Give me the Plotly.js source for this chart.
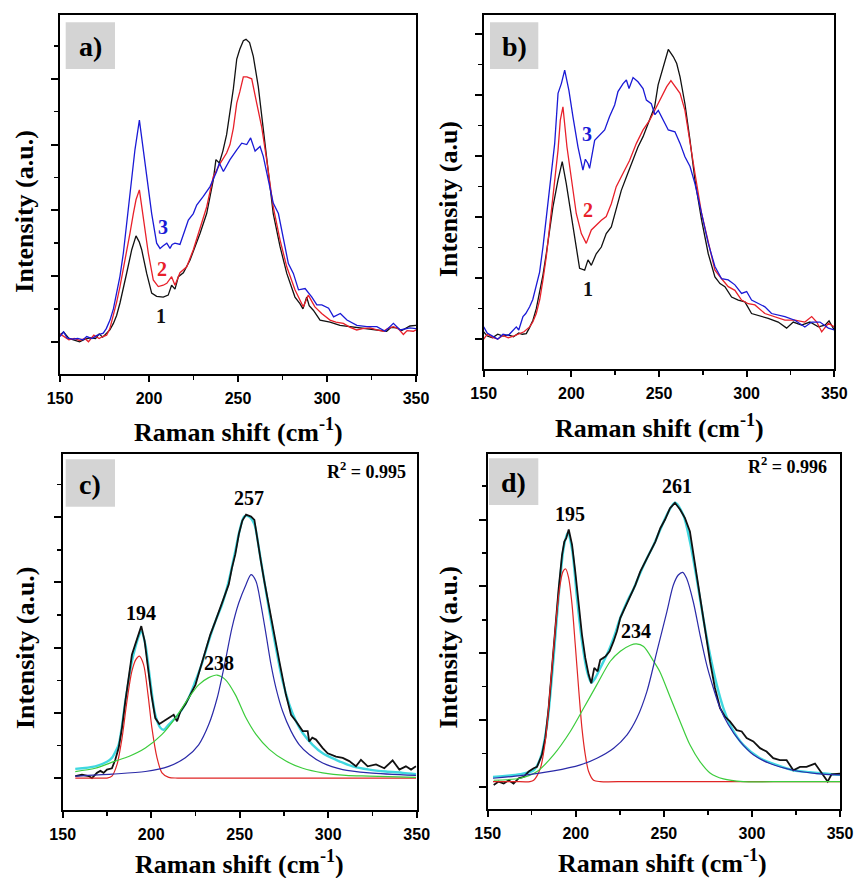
<!DOCTYPE html>
<html>
<head>
<meta charset="utf-8">
<script src="https://cdn.plot.ly/plotly-3.0.1.min.js"></script>
<style>html,body{margin:0;padding:0;background:#fff;}#chart{width:855px;height:878px;}</style>
</head>
<body>
<div id="chart"></div>
<script>
// ---------- Panel a ----------
const aX1 = [150,152,155,158,161,164,167,170,172,174,176,178,180,181.8,183.7,185.6,187.5,190.3,192.7,194.5,195.9,198.7,201.5,204.3,208,210.8,212.7,214.6,216.5,219.3,223,228.7,232.4,236.1,237.6,239.5,241.5,243.6,247.4,249.3,251,253,254.5,256.5,258.6,261.4,264.2,267,269.8,273.6,277.4,282,284.8,286.5,288.6,290,292.3,296.1,301.7,307.3,313,320.4,328,333.5,336,339,342,346.6,350];
const aY1 = [0.10,0.15,0.05,0.03,0.0,0.04,0.06,0.05,0.12,0.07,0.12,0.18,0.28,0.4,0.59,0.8,1.05,1.40,1.61,1.52,1.40,1.04,0.74,0.69,0.68,0.71,0.86,0.80,0.99,1.05,1.24,1.65,1.95,2.46,2.77,2.72,2.9,3.15,3.85,4.3,4.45,4.58,4.60,4.55,4.34,3.88,3.22,2.61,1.95,1.45,1.04,0.68,0.58,0.5,0.68,0.55,0.48,0.33,0.30,0.25,0.23,0.21,0.18,0.16,0.22,0.21,0.17,0.24,0.25];
const aX2 = [150,152,155,158,161,164,166,169,172,174,176.2,178,180,181.8,183.7,185.6,187.5,189.3,191.2,192.7,194.6,196.8,199.6,202.4,205.2,208,210,212.7,214.6,217.4,221.2,224.9,228.7,232.4,236.1,239.9,243.6,245.5,247.4,249.3,251,253,255,257.7,260.5,263.3,266.1,269.8,273.6,277.4,282,286.7,289.5,293.2,297,301.7,305,309.2,313,316.7,320,324.2,328,331.7,334,337.3,340,342.9,345,348.5,350];
const aY2 = [0.12,0.08,0.03,0.05,0.02,0.05,0.0,0.1,0.05,0.08,0.10,0.2,0.40,0.6,0.84,1.1,1.35,1.65,1.95,2.16,2.31,1.85,1.35,0.94,0.84,0.86,0.89,0.99,0.86,1.05,1.14,1.40,1.75,2.05,2.51,2.71,2.87,3.0,3.25,3.63,3.8,4.03,4.03,4.00,3.63,3.27,2.77,2.05,1.55,1.14,0.79,0.53,0.71,0.53,0.43,0.33,0.3,0.28,0.22,0.18,0.2,0.21,0.18,0.16,0.2,0.23,0.2,0.11,0.17,0.16,0.18];
const aX3 = [150,152,154,157,160,163,165,168,171,174.3,176,178.1,180,181.8,183.7,185.6,187.5,189.3,192.1,194.6,196.8,199,201.5,204.3,206.2,208,210,211.8,213,214.6,217.4,220.2,222.1,224.9,226.8,230.5,234.3,238,239.5,241.8,245.5,249.3,252.1,254.9,257.1,259.6,262.4,264.2,267,269.8,272.7,275.5,278.3,281.1,284,287.7,291.5,294.3,297.1,300.9,303.7,307.5,311.2,316.8,322.4,328,332.7,337.3,341.1,346.6,350];
const aY3 = [0.08,0.15,0.06,0.04,0.05,0.03,0.08,0.05,0.1,0.13,0.2,0.33,0.5,0.74,1.0,1.35,1.8,2.26,2.92,3.37,2.92,2.46,1.95,1.50,1.42,1.46,1.50,1.42,1.48,1.50,1.48,1.70,1.85,1.95,2.08,2.21,2.36,2.59,2.72,2.59,2.77,2.92,3.02,3.0,3.10,2.90,2.97,2.82,2.46,2.11,1.95,1.55,1.19,1.04,0.79,0.81,0.68,0.56,0.56,0.51,0.38,0.43,0.33,0.25,0.23,0.23,0.16,0.28,0.18,0.21,0.2];

// ---------- Panel b ----------
const bX1 = [150,152,155,158,161,164,167,170,172,174.3,176,178.1,180,181.9,183.8,185.7,187.6,189.5,192.4,194.8,197.1,200,202.8,204.7,207.6,209.5,211.4,214.2,217.1,219.9,222.8,225.6,228.5,231.4,235.2,238,240.9,244.7,247.5,249.5,251.5,253.4,255.3,258.2,260.1,262,264.8,267.7,270.5,274.3,278.1,281.9,284.8,287.6,291.4,295.2,299,302.8,306.6,312.3,318,322.8,326.6,331.3,336.1,340.9,344.7,347,350];
const bY1 = [0.12,0.05,0.02,0.08,0.05,0.07,0.04,0.1,0.08,0.09,0.18,0.31,0.5,0.75,1.05,1.40,1.8,2.17,2.61,2.91,2.55,2.01,1.46,1.16,1.13,1.30,1.21,1.40,1.51,1.73,1.84,2.12,2.44,2.66,2.93,3.15,3.32,3.59,3.81,4.17,4.38,4.57,4.75,4.63,4.52,4.30,3.86,3.26,2.61,1.95,1.40,1.02,0.91,0.86,0.69,0.64,0.61,0.42,0.39,0.34,0.28,0.18,0.28,0.23,0.28,0.20,0.23,0.3,0.15];
const bX2 = [150,152,155,158,161,164,167,170,173,176.2,178,180,182,183.8,185.7,187.6,190.5,192.4,193.7,195.2,197.5,200,202.8,205.7,208.5,211.4,214.2,217.1,219.9,222.8,225.6,229.5,233.2,237.1,240.9,244.7,248.5,251.5,254.4,256.8,259.1,262,264.8,267.7,270.5,274.3,278.1,281.9,285.7,289.5,293.3,297.1,300.9,304.7,310.4,316.1,321.8,327.5,333.2,337.1,340,342.8,346.6,350];
const bY2 = [0.0,0.08,0.03,0.0,0.06,0.02,0.05,0.08,0.12,0.20,0.28,0.42,0.65,0.97,1.35,1.84,2.66,3.10,3.59,3.81,3.15,2.61,2.06,1.73,1.57,1.79,1.87,1.95,2.01,2.22,2.50,2.72,2.93,3.21,3.43,3.59,3.80,3.97,4.14,4.24,4.14,4.03,3.75,3.26,2.72,2.06,1.57,1.13,0.99,0.86,0.80,0.64,0.58,0.56,0.42,0.37,0.31,0.31,0.28,0.37,0.28,0.12,0.26,0.2];
const bX3 = [150,152,155,158,161,164,166,168.6,170,172.4,174,176.2,178,180,181.9,183.8,185.7,187.6,190.5,192.4,194.3,196.2,198.6,200.9,203.8,206.6,208,209.5,210.4,213.3,216.1,219,221.8,224.7,226.6,229.5,231.4,232.9,235.2,238,240.9,242.8,245.6,247.7,249.6,252.5,255.3,259.1,262,264.8,267.7,270.5,274.3,278.1,281.9,285.7,289.5,293.3,297.1,300,302.8,306.6,310.4,314.2,318,321.8,327.5,333.2,337.1,341.8,346.6,350];
const bY3 = [0.2,0.1,0.05,0.0,0.08,0.06,0.12,0.20,0.15,0.37,0.42,0.53,0.65,0.86,1.1,1.51,2.0,2.50,3.21,4.03,4.19,4.41,4.08,3.65,3.15,2.77,2.95,2.88,2.80,3.26,3.34,3.43,3.65,3.84,4.06,4.19,4.25,4.11,4.29,4.22,4.11,3.92,3.86,3.68,3.75,3.59,3.43,3.40,3.21,2.99,2.83,2.55,2.06,1.57,1.19,0.99,0.97,0.89,0.75,0.78,0.64,0.58,0.53,0.42,0.39,0.37,0.31,0.20,0.28,0.28,0.18,0.15];

// ---------- Panel c ----------
const cXdata = [157.1,160.9,164.7,166.5,169.4,171.3,173.1,175,177.8,179.7,181.6,183.5,185.4,187.3,189.1,191,192.9,194.4,196.3,198.2,200.1,202.3,204.6,207,209.9,212.7,214.6,216.5,219.3,222.1,225,227.8,230.6,233.4,236.2,239.1,241.9,243.8,245.6,247.5,249.6,251.5,253.6,256.4,258.3,260.1,262,263.9,266.7,269.6,272.4,276.1,279,281.8,285.6,288.4,289.3,291,293.1,296.9,299.7,304.4,308.2,311.9,315.7,318.5,322.3,327,331.7,336.4,340.2,343.9,346.8,349.6];
const cYdata = [0.03,0.05,0.03,0.0,0.08,0.11,0.08,0.13,0.15,0.28,0.46,0.77,1.18,1.59,1.89,2.05,2.20,2.33,2.10,1.69,1.28,0.92,0.83,0.87,0.92,0.97,0.87,1.02,1.13,1.28,1.43,1.69,1.94,2.20,2.40,2.61,2.81,2.97,3.22,3.43,3.75,3.95,4.04,4.01,3.96,3.63,3.32,3.02,2.61,2.15,1.79,1.28,0.97,0.87,0.72,0.72,0.56,0.62,0.59,0.46,0.38,0.33,0.31,0.26,0.18,0.28,0.18,0.21,0.15,0.27,0.13,0.18,0.13,0.18];
const cXfit = [157.1,168.4,175,177.8,179.7,181.6,183.5,185.4,187.3,189.1,191,192.9,194.4,196.7,199.5,202.3,205.2,207,209.9,213.6,217.4,221.2,224.9,228.7,232.5,236.2,240,243.8,247.5,249.8,252.6,255.4,258.3,261.1,263.9,266.7,270.5,274.3,278,281.8,285.6,291.2,296.9,304.4,313.8,323.2,332.6,342.1,349.6];
const cYfit = [0.14,0.18,0.25,0.31,0.40,0.51,0.8,1.18,1.5,1.79,2.0,2.17,2.25,2.05,1.48,0.97,0.77,0.74,0.82,0.92,1.05,1.23,1.48,1.76,2.10,2.40,2.66,3.02,3.48,3.78,4.01,4.01,3.89,3.48,3.02,2.56,1.99,1.48,1.13,0.87,0.69,0.51,0.38,0.28,0.18,0.13,0.10,0.08,0.06];
const cXp1 = [157.1,170,175,177.8,180.7,183.5,186.3,189.1,191.4,193.3,195.7,198.2,200.4,203.3,206.1,209.9,215,250,300,349.6];
const cYp1 = [0,0,0,0.03,0.21,0.61,1.18,1.64,1.82,1.87,1.74,1.28,0.77,0.31,0.08,0.01,0,0,0,0];
const cXp2 = [157.1,168.4,179.7,187.3,196.7,206.1,213.6,221.2,226.8,232.5,237.2,241.9,247.5,253.6,259.2,266.7,276.1,285.6,296.9,310,323.2,349.6];
const cYp2 = [0.10,0.15,0.26,0.33,0.46,0.67,0.92,1.23,1.43,1.54,1.58,1.51,1.28,0.92,0.67,0.44,0.26,0.15,0.08,0.04,0.03,0.01];
const cXp3 = [157.1,177.8,196.7,209.9,219.3,226.8,232.5,237.2,241.9,245.6,249.4,253.6,256.4,259.2,262,264.9,267.7,270.5,274.3,279,283.7,289.3,296.9,308.2,323.2,349.6];
const cYp3 = [0.03,0.06,0.10,0.18,0.31,0.51,0.82,1.22,1.8,2.3,2.68,2.97,3.12,3.02,2.66,2.20,1.74,1.38,1.02,0.72,0.51,0.36,0.23,0.13,0.08,0.04];

// ---------- Panel d ----------
const dXdata = [153.4,156.2,159.1,161.9,164.7,167.6,170.4,173.3,176.1,178,180.8,182.7,184.6,186.5,188.4,190.3,192.2,193.5,194.6,196,197.9,199.7,201.6,203.5,205.4,207.3,208.8,210.5,212.4,213.9,216.8,219.2,221.5,223.4,225.3,228.1,231,233.8,236.6,239.5,242.3,245.2,248,250.7,253.5,256.3,259.2,262,264.8,267.7,270.5,273.3,276.2,279,281.9,284.7,287.5,291.3,294.2,297,300.8,304.6,308.3,312.1,315.9,319.7,323.5,327.3,331,335.8,338.6,340.5,343,345.2,350];
const dYdata = [0.03,0.08,0.05,0.10,0.05,0.13,0.15,0.23,0.28,0.30,0.48,0.73,1.18,1.73,2.38,2.97,3.47,3.67,3.72,3.85,3.62,3.22,2.72,2.28,1.93,1.68,1.55,1.78,1.73,1.90,1.95,2.03,2.18,2.33,2.53,2.70,2.87,3.02,3.22,3.37,3.52,3.67,3.87,4.0,4.17,4.25,4.15,4.02,3.82,3.32,2.87,2.33,1.88,1.48,1.18,1.05,0.98,0.85,0.83,0.73,0.68,0.58,0.53,0.43,0.40,0.40,0.25,0.30,0.30,0.35,0.25,0.18,0.08,0.19,0.20];
const dXfit = [153,168.5,176.1,179.9,183.7,187.4,190.3,193.1,195.4,197.9,200.7,203.5,206.4,208.8,211.1,213.9,217.7,221.5,225.3,229.1,232.9,236.6,240.4,244.2,248,251.7,256.3,261,264.8,268.6,272.4,276.2,280,283.8,288.5,295.1,304.6,314,323.5,333,350];
const dYfit = [0.15,0.19,0.25,0.43,0.93,1.93,2.87,3.57,3.80,3.55,2.82,2.18,1.73,1.56,1.63,1.78,1.98,2.23,2.53,2.77,2.97,3.20,3.42,3.62,3.85,4.07,4.25,4.07,3.67,3.12,2.52,1.98,1.53,1.18,0.88,0.63,0.43,0.33,0.25,0.22,0.18];
const dXp1 = [153,165,174,176.1,179.9,182.7,185.5,188.4,190.8,192.7,194.3,196,197.9,199.7,201.6,203.5,205.4,207.3,210.1,213.9,230,280,350];
const dYp1 = [0.08,0.08,0.08,0.10,0.28,0.68,1.48,2.38,2.97,3.22,3.26,3.12,2.72,2.13,1.48,0.88,0.48,0.23,0.10,0.08,0.08,0.08,0.08];
const dXp2 = [153.4,168.5,178,187.4,196.9,204.5,212,219.6,225.3,231,234.4,238.5,244.2,247.8,253.5,259.2,264.8,270.5,276.2,283.8,295.1,320,350];
const dYp2 = [0.10,0.13,0.23,0.48,0.83,1.18,1.53,1.88,2.03,2.12,2.14,2.10,1.88,1.72,1.35,0.98,0.63,0.38,0.21,0.12,0.08,0.08,0.08];
const dXp3 = [153,168.5,187.4,202.6,212,221.5,229.1,234.7,240.4,246.1,251.7,255.4,258.2,260.7,262.9,266.7,270.5,274.3,278.1,281.9,286.6,293.2,300.8,310.2,323.5,336.7,350];
const dYp3 = [0.13,0.17,0.24,0.33,0.43,0.58,0.78,1.03,1.43,2.03,2.62,3.02,3.17,3.21,3.12,2.77,2.28,1.83,1.48,1.18,0.93,0.68,0.48,0.35,0.25,0.20,0.18];

// ---------- texts ----------
const xTickVals = [150, 200, 250, 300, 350];
const xTickText = ['150', '200', '250', '300', '350'];
const panelLabels = ['a)', 'b)', 'c)', 'd)'];
const xTitle = 'Raman shift (cm<sup>-1</sup>)';
const yTitles = ['Intensity (a.u.)', 'Intensity (a.u)', 'Intensity (a.u.)', 'Intensity (a.u.)'];
const curveNames = ['1', '2', '3'];
const peaksC = ['194', '238', '257'];
const peaksD = ['195', '234', '261'];
const r2Texts = ['R<sup>2</sup> = 0.995', 'R<sup>2</sup> = 0.996'];

const SERIF = 'Liberation Serif, Times New Roman, serif';
const SANS = 'Liberation Sans, Arial, sans-serif';
const W = 855, H = 878;
const px = v => v / W;
const py = v => 1 - v / H;

const BLACK = '#111111', RED = '#e8202a', BLUE = '#1a1ad6';
const CYAN = '#40d8e0', FRED = '#e02525', FGREEN = '#3ccc3c', FBLUE = '#2a2aa8';

function line(x, y, ax, color, width) {
  return {x: x, y: y, xaxis: 'x' + ax, yaxis: 'y' + ax, mode: 'lines', type: 'scatter',
    line: {color: color, width: width}, hoverinfo: 'skip', showlegend: false};
}
function sline(x, y, ax, color, width) {
  const t = line(x, y, ax, color, width); t.line.shape = 'spline'; t.line.smoothing = 0.8; return t;
}

const traces = [
  line(aX1, aY1, '', BLACK, 1.3), line(aX2, aY2, '', RED, 1.3), line(aX3, aY3, '', BLUE, 1.3),
  line(bX1, bY1, '2', BLACK, 1.3), line(bX2, bY2, '2', RED, 1.3), line(bX3, bY3, '2', BLUE, 1.3),
  sline(cXfit, cYfit, '3', CYAN, 2.4), line(cXdata, cYdata, '3', BLACK, 1.8),
  sline(cXp1, cYp1, '3', FRED, 1.2), sline(cXp2, cYp2, '3', FGREEN, 1.2), sline(cXp3, cYp3, '3', FBLUE, 1.2),
  sline(dXfit, dYfit, '4', CYAN, 2.4), line(dXdata, dYdata, '4', BLACK, 1.8),
  sline(dXp1, dYp1, '4', FRED, 1.2), sline(dXp2, dYp2, '4', FGREEN, 1.2), sline(dXp3, dYp3, '4', FBLUE, 1.2)
];

function xAxis(domain, anchor) {
  return {domain: domain, anchor: anchor, range: [150, 350], tickmode: 'array',
    tickvals: xTickVals, ticktext: xTickText.map(t => '<b>' + t + '</b>'),
    ticks: 'outside', ticklen: 6, tickwidth: 2, tickcolor: '#000', ticklabelstandoff: 3,
    showline: true, linewidth: 2, linecolor: '#000', mirror: true, showgrid: false, zeroline: false,
    tickfont: {family: SANS, size: 16, color: '#000', weight: 'bold'},
    minor: {tick0: 150, dtick: 25, ticks: 'outside', ticklen: 4, tickwidth: 1.5, tickcolor: '#000', showgrid: false},
    fixedrange: true};
}
function yAxis(domain, anchor, range) {
  return {domain: domain, anchor: anchor, range: range, tick0: 0, dtick: 1,
    ticks: 'outside', ticklen: 7, tickwidth: 2, tickcolor: '#000', showticklabels: false,
    showline: true, linewidth: 2, linecolor: '#000', mirror: true, showgrid: false, zeroline: false,
    minor: {tick0: 0, dtick: 0.5, ticks: 'outside', ticklen: 4, tickwidth: 1.5, tickcolor: '#000', showgrid: false},
    fixedrange: true};
}

const dom = {
  a: {x: [px(60), px(416)], y: [py(374), py(15)]},
  b: {x: [px(483.7), px(834.3)], y: [py(369), py(14.7)]},
  c: {x: [px(62.7), px(416.7)], y: [py(810), py(454)]},
  d: {x: [px(487.7), px(840)], y: [py(809), py(454)]}
};

const ann = [];
const shapes = [];
const boxes = [[65.7, 115, 22.3, 69], [490, 538.3, 22.3, 69], [65.7, 115, 459.3, 506.7], [489, 538.3, 458.3, 505]];
boxes.forEach((b, i) => {
  shapes.push({type: 'rect', xref: 'paper', yref: 'paper', x0: px(b[0]), x1: px(b[1]), y0: py(b[3]), y1: py(b[2]),
    fillcolor: '#d4d4d4', line: {width: 0}, layer: 'above'});
  ann.push({xref: 'paper', yref: 'paper', x: px((b[0] + b[1]) / 2), y: py((b[2] + b[3]) / 2 + 1),
    xanchor: 'center', yanchor: 'middle', text: '<b>' + panelLabels[i] + '</b>', showarrow: false,
    font: {family: SERIF, size: 28, color: '#000'}});
});
const xTitlePos = [[238, 430], [659, 426], [239.5, 862], [662.5, 861]];
xTitlePos.forEach(p => ann.push({xref: 'paper', yref: 'paper', x: px(p[0]), y: py(p[1]), xanchor: 'center', yanchor: 'middle',
  text: '<b>' + xTitle + '</b>', showarrow: false, font: {family: SERIF, size: 26, color: '#000'}}));
const yTitlePos = [[25, 211.7], [448, 199], [25, 648], [448, 647.5]];
yTitlePos.forEach((p, i) => ann.push({xref: 'paper', yref: 'paper', x: px(p[0]), y: py(p[1]), xanchor: 'center', yanchor: 'middle',
  textangle: -90, text: '<b>' + yTitles[i] + '</b>', showarrow: false, font: {family: SERIF, size: 26, color: '#000'}}));
const numColors = [BLACK, RED, BLUE];
const numA = [[206.9, 0.39], [207.5, 1.10], [207.9, 1.75]];
const numB = [[209.7, 0.83], [209.7, 2.11], [208.8, 3.37]];
numA.forEach((p, i) => ann.push({xref: 'x', yref: 'y', x: p[0], y: p[1], text: '<b>' + curveNames[i] + '</b>', showarrow: false,
  font: {family: SERIF, size: 20, color: numColors[i]}}));
numB.forEach((p, i) => ann.push({xref: 'x2', yref: 'y2', x: p[0], y: p[1], text: '<b>' + curveNames[i] + '</b>', showarrow: false,
  font: {family: SERIF, size: 20, color: numColors[i]}}));
const posC = [[194.2, 2.53], [238.1, 1.76], [255.4, 4.29]];
const posD = [[196.9, 4.08], [234.4, 2.33], [257.3, 4.50]];
posC.forEach((p, i) => ann.push({xref: 'x3', yref: 'y3', x: p[0], y: p[1], text: '<b>' + peaksC[i] + '</b>', showarrow: false,
  font: {family: SERIF, size: 20, color: '#000'}}));
posD.forEach((p, i) => ann.push({xref: 'x4', yref: 'y4', x: p[0], y: p[1], text: '<b>' + peaksD[i] + '</b>', showarrow: false,
  font: {family: SERIF, size: 20, color: '#000'}}));
ann.push({xref: 'paper', yref: 'paper', x: px(408), y: py(471), xanchor: 'right', yanchor: 'middle', text: '<b>' + r2Texts[0] + '</b>',
  showarrow: false, font: {family: SERIF, size: 18, color: '#000'}});
ann.push({xref: 'paper', yref: 'paper', x: px(829), y: py(465), xanchor: 'right', yanchor: 'middle', text: '<b>' + r2Texts[1] + '</b>',
  showarrow: false, font: {family: SERIF, size: 18, color: '#000'}});

const layout = {
  width: W, height: H, margin: {l: 0, r: 0, t: 0, b: 0}, paper_bgcolor: '#fff', plot_bgcolor: '#fff',
  showlegend: false,
  xaxis: xAxis(dom.a.x, 'y'), yaxis: yAxis(dom.a.y, 'x', [-0.49, 4.97]),
  xaxis2: xAxis(dom.b.x, 'y2'), yaxis2: yAxis(dom.b.y, 'x2', [-0.49, 5.32]),
  xaxis3: xAxis(dom.c.x, 'y3'), yaxis3: yAxis(dom.c.y, 'x3', [-0.49, 4.97]),
  xaxis4: xAxis(dom.d.x, 'y4'), yaxis4: yAxis(dom.d.y, 'x4', [-0.33, 4.98]),
  annotations: ann, shapes: shapes
};

Plotly.newPlot('chart', traces, layout, {staticPlot: true, displayModeBar: false});
</script>
</body>
</html>
